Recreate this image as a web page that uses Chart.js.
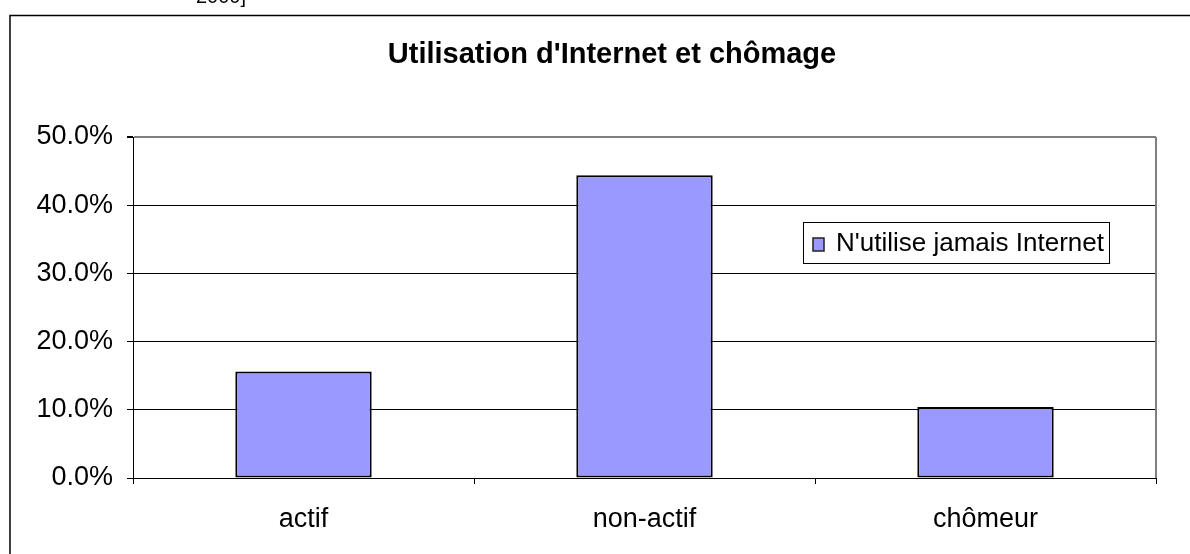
<!DOCTYPE html>
<html>
<head>
<meta charset="utf-8">
<script src="https://cdn.jsdelivr.net/npm/chart.js@4"></script>
<style>
  html, body { margin: 0; padding: 0; background: #fff; overflow: hidden; }
  #wrap { position: relative; width: 1190px; height: 554px; }
  #note { position: absolute; left: 196px; top: -15px; font: 20px "Liberation Sans", Arial, sans-serif; color: #000; }
</style>
</head>
<body>
<div id="wrap">
  <canvas id="chart" width="1190" height="554"></canvas>
  <div id="note">2000]</div>
</div>
<script>
const categories = ["actif", "non-actif", "chômeur"];
const neverUses = [15.6, 44.4, 10.4];
const seriesLabel = "N'utilise jamais Internet";
const chartTitle = "Utilisation d'Internet et chômage";
const yTicks = [0, 10, 20, 30, 40, 50];

const FONT = '"Liberation Sans", Arial, sans-serif';
const BAR = "#9999ff";

/* outer frame, title, right plot edge and legend box */
const decor = {
    id: "decor",
    beforeDraw(chart) {
        const c = chart.ctx;
        c.save();
        c.fillStyle = "#fff";
        c.fillRect(0, 0, chart.width, chart.height);
        c.strokeStyle = "#000";
        c.lineWidth = 1.5;
        c.strokeRect(10, 15.5, 1200, 600);

        c.fillStyle = "#000";
        c.font = "bold 29px " + FONT;
        c.textAlign = "center";
        c.textBaseline = "middle";
        c.fillText(chartTitle, 612, 55);
        c.restore();
    },
    afterDraw(chart) {
        const c = chart.ctx;
        const a = chart.chartArea;
        c.save();
        // grey right edge of plot area
        c.strokeStyle = "#808080";
        c.lineWidth = 2;
        c.beginPath();
        c.moveTo(a.right, a.top);
        c.lineTo(a.right, a.bottom);
        c.stroke();

        // legend
        const ds = chart.data.datasets[0];
        const lx = 803.5, ly = 222.5, lw = 306, lh = 41;
        c.fillStyle = "#fff";
        c.fillRect(lx, ly, lw, lh);
        c.strokeStyle = "#000";
        c.lineWidth = 1;
        c.strokeRect(lx, ly, lw, lh);
        c.fillStyle = ds.backgroundColor;
        c.fillRect(813, 238, 11, 13);
        c.strokeStyle = "#222";
        c.lineWidth = 1.5;
        c.strokeRect(813, 238, 11, 13);
        c.fillStyle = "#000";
        c.font = "26px " + FONT;
        c.textBaseline = "middle";
        c.fillText(ds.label, 836, 244);
        c.restore();
    }
};

new Chart(document.getElementById("chart"), {
    type: "bar",
    data: {
        labels: categories,
        datasets: [{
            label: seriesLabel,
            data: neverUses,
            backgroundColor: BAR,
            borderColor: "#000",
            borderWidth: 2,
            borderSkipped: false,
            barPercentage: 0.4,
            categoryPercentage: 1
        }]
    },
    options: {
        responsive: false,
        animation: false,
        layout: { padding: { left: 0, right: 34, top: 137, bottom: 0 } },
        plugins: {
            legend: { display: false },
            tooltip: { enabled: false },
            title: { display: false }
        },
        scales: {
            x: {
                afterFit: s => { s.height = 76; },
                grid: {
                    offset: true,
                    drawOnChartArea: false,
                    drawTicks: true,
                    tickLength: 6,
                    color: "#000"
                },
                border: { display: true, color: "#000", width: 1 },
                ticks: {
                    color: "#000",
                    font: { family: FONT, size: 27 },
                    padding: 19
                }
            },
            y: {
                min: 0,
                max: 50,
                afterFit: s => { s.width = 133; },
                afterBuildTicks: s => { s.ticks = yTicks.map(v => ({ value: v })); },
                grid: {
                    color: ctx => ctx.tick && ctx.tick.value === 50 ? "#808080" : "#000",
                    lineWidth: ctx => ctx.tick && ctx.tick.value === 50 ? 2 : 1,
                    tickColor: "#000",
                    tickLength: 6
                },
                border: { display: true, color: "#000", width: 1 },
                ticks: {
                    color: "#000",
                    font: { family: FONT, size: 27 },
                    padding: 14,
                    callback: v => v.toFixed(1) + "%"
                }
            }
        }
    },
    plugins: [decor]
});
</script>
</body>
</html>
